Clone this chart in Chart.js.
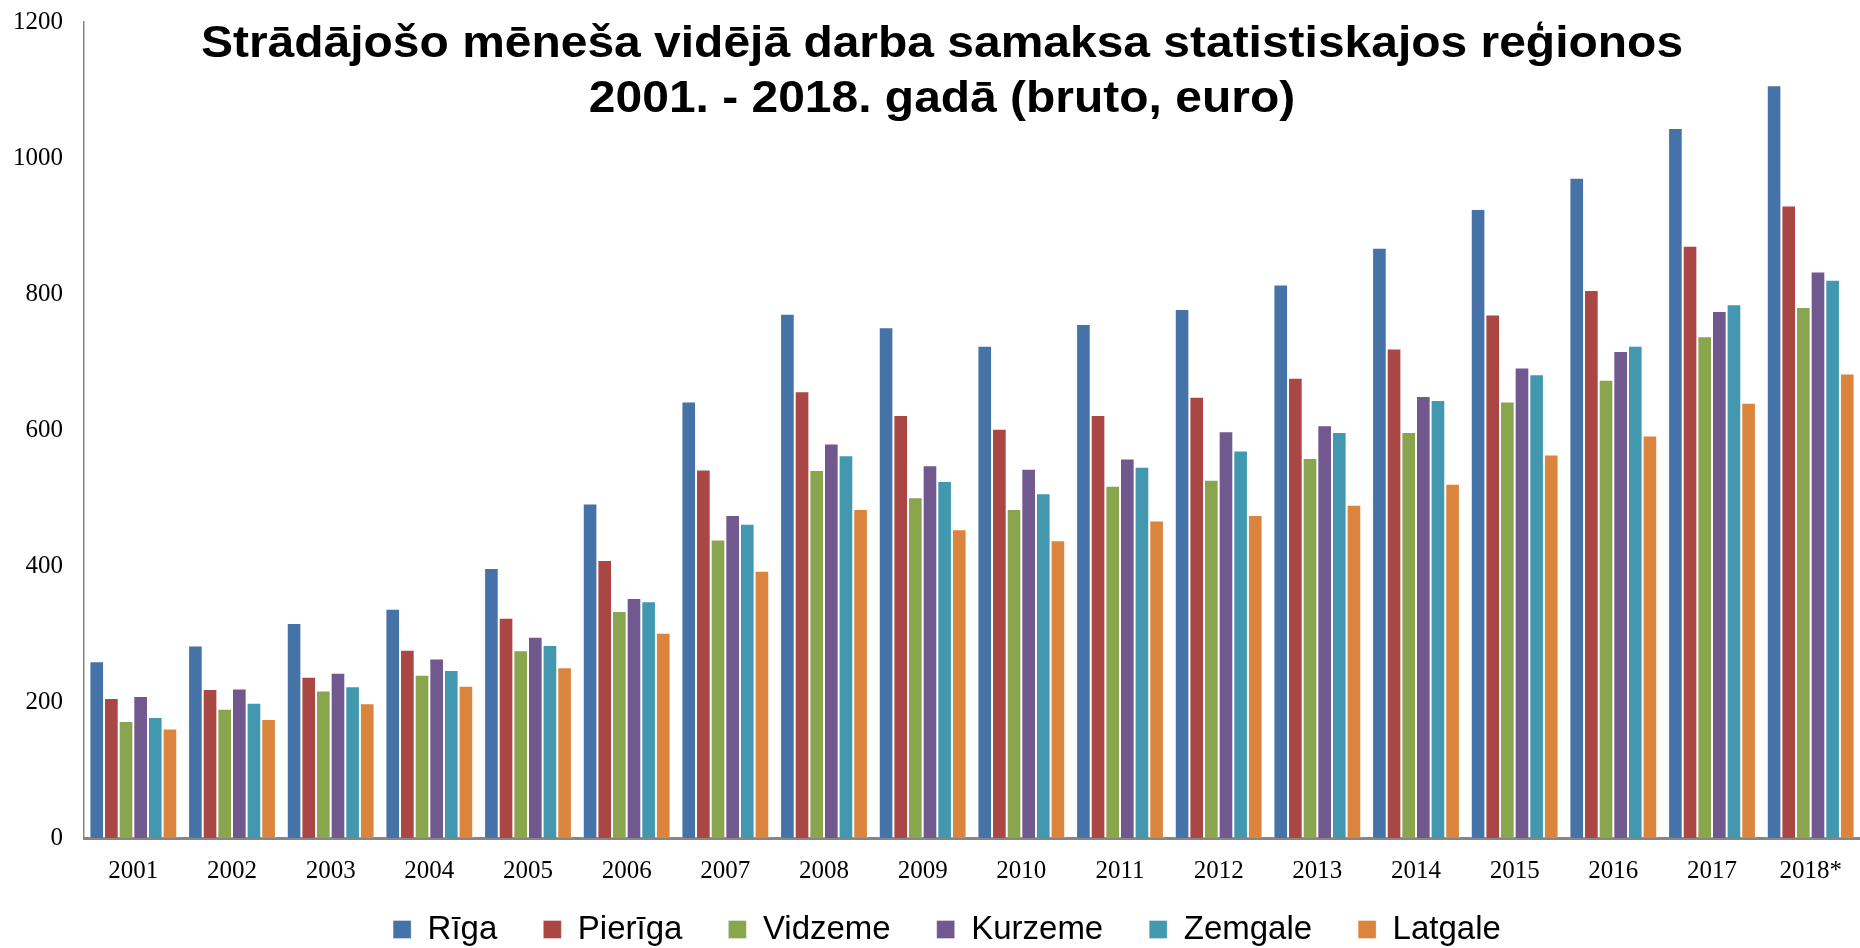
<!DOCTYPE html>
<html lang="lv">
<head>
  <meta charset="UTF-8" />
  <title>Strādājošo mēneša vidējā darba samaksa</title>
  <script src="https://cdn.jsdelivr.net/npm/chart.js@4.4.1/dist/chart.umd.min.js"></script>
  <style>
    html, body { margin: 0; padding: 0; background: #fff; }
    #wrap { position: relative; width: 1860px; height: 948px; }
  </style>
</head>
<body>
  <div id="wrap">
    <canvas id="wageChart"></canvas>
  </div>

  <script>
    // dati: vidējā bruto alga pa reģioniem (euro)
    const years = ["2001", "2002", "2003", "2004", "2005", "2006", "2007", "2008", "2009",
                   "2010", "2011", "2012", "2013", "2014", "2015", "2016", "2017", "2018*"];
    const riga     = [260, 283, 316, 337, 397, 492, 642, 771, 751, 724, 756, 778, 814, 868, 925, 971, 1044, 1107];
    const pieriga  = [206, 219, 237, 277, 324, 409, 542, 657, 622, 602, 622, 649, 677, 720, 770, 806, 871, 930];
    const vidzeme  = [172, 190, 217, 240, 276, 334, 439, 541, 501, 484, 518, 527, 559, 597, 642, 674, 738, 781];
    const kurzeme  = [209, 220, 243, 264, 296, 353, 475, 580, 548, 543, 558, 598, 607, 650, 692, 716, 775, 833];
    const zemgale  = [178, 199, 223, 247, 284, 348, 462, 563, 525, 507, 546, 570, 597, 644, 682, 724, 785, 821];
    const latgale  = [161, 175, 198, 224, 251, 302, 393, 484, 454, 438, 467, 475, 490, 521, 564, 592, 640, 683];

    const regionNames = ["Rīga", "Pierīga", "Vidzeme", "Kurzeme", "Zemgale", "Latgale"];
    const regionColors = ["#4572A7", "#AA4643", "#89A54E", "#71588F", "#4198AF", "#DB843D"];
    const yTicks = [0, 200, 400, 600, 800, 1000, 1200];

    const titleLines = [
      "Strādājošo mēneša vidējā darba samaksa statistiskajos reģionos",
      "2001. - 2018. gadā (bruto, euro)"
    ];

    const seriesData = [riga, pieriga, vidzeme, kurzeme, zemgale, latgale];

    // virsraksts pārklāj grafika augšu (kā Excel oriģinālā), nedaudz izstiepts platumā
    const titleOverlay = {
      id: "titleOverlay",
      afterDraw(chart) {
        const c = chart.ctx;
        c.save();
        c.fillStyle = "#000";
        c.font = "bold 44px 'Liberation Sans', Arial, sans-serif";
        c.textAlign = "center";
        c.textBaseline = "alphabetic";
        c.translate(942, 0);
        c.scale(1.09, 1);
        c.fillText(titleLines[0], 0, 57);
        c.fillText(titleLines[1], 0, 112);
        c.restore();
      }
    };

    // leģendu pabīda nedaudz pa labi un uz augšu (apakšmala paliek vietā)
    const legendNudge = {
      id: "legendNudge",
      afterLayout(chart) {
        const lg = chart.legend;
        if (!lg) return;
        lg.left += 17;
        lg.right += 17;
        lg.top -= 16;
        lg.height += 16;
      }
    };

    const ctx = document.getElementById("wageChart").getContext("2d");
    new Chart(ctx, {
      type: "bar",
      data: {
        labels: years,
        datasets: regionNames.map((name, i) => ({
          label: name,
          data: seriesData[i],
          backgroundColor: regionColors[i],
          borderColor: "rgba(255,255,255,0.35)",
          borderWidth: 1,
          categoryPercentage: 0.89,
          barPercentage: 1.0
        }))
      },
      options: {
        responsive: true,
        maintainAspectRatio: false,
        animation: false,
        layout: { padding: { top: 22, left: 0, right: 0, bottom: 0 } },
        plugins: {
          title: { display: false },
          tooltip: { enabled: false },
          legend: {
            position: "bottom",
            maxHeight: 65,
            labels: {
              boxWidth: 18,
              boxHeight: 18,
              padding: 46,
              color: "#000",
              font: { family: "'Liberation Sans', Arial, sans-serif", size: 33 }
            }
          }
        },
        scales: {
          x: {
            grid: { display: false, drawTicks: false },
            border: { display: true, color: "#868686", width: 3 },
            ticks: {
              color: "#000",
              padding: 18,
              font: { family: "'Liberation Serif', 'Times New Roman', serif", size: 25 }
            },
            afterFit(scale) { scale.height = 45; }
          },
          y: {
            min: 0,
            max: 1200,
            afterBuildTicks(scale) { scale.ticks = yTicks.map(v => ({ value: v })); },
            grid: { display: false, drawTicks: false },
            border: { display: true, color: "#868686", width: 1.5 },
            ticks: {
              color: "#000",
              padding: 21,
              callback: v => String(v),
              font: { family: "'Liberation Serif', 'Times New Roman', serif", size: 25 }
            },
            afterFit(scale) {
              scale.width = 84;
              scale.paddingTop = 0;
              scale.paddingBottom = 0;
            }
          }
        }
      },
      plugins: [titleOverlay, legendNudge]
    });
  </script>
</body>
</html>
